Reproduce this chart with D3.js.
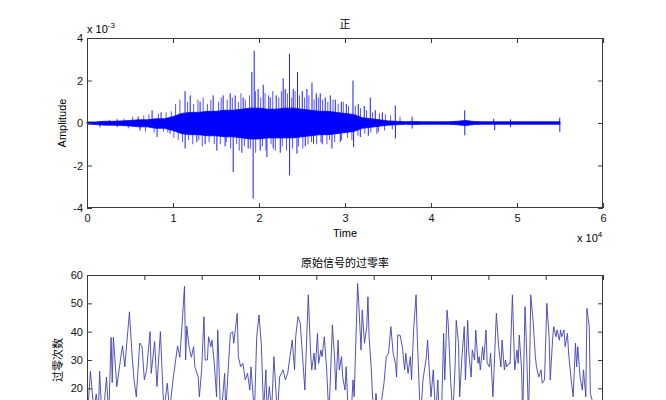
<!DOCTYPE html>
<html><head><meta charset="utf-8">
<script src="https://cdn.jsdelivr.net/npm/d3@7/dist/d3.min.js"></script>
<style>
html,body{margin:0;padding:0;background:#fff;}
text{font-family:"Liberation Sans",Arial,sans-serif;}
.cjk{font-family:"Noto Sans CJK SC","Liberation Sans",sans-serif;}
</style></head>
<body><svg id="c" width="666" height="400"></svg>
<script>
// ---------- DATA ----------
// Top plot: audio waveform, amplitude in units of 1e-3, time in samples
const waveT = [0,1000,2000,3000,4000,5000,6000,7000,8000,9000,10000,11000,12000,13000,14000,15000,16000,17000,18000,19000,20000,21000,22000,23000,24000,25000,26000,27000,28000,29000,30000,31000,32000,33000,34000,35000,36000,37000,38000,39000,40000,41000,42000,43000,44000,45000,46000,47000,48000,49000,50000,51000,52000,53000,54000,55000];
const waveUpper = [0.05,0.05,0.08,0.08,0.1,0.12,0.15,0.15,0.2,0.2,0.3,0.45,0.5,0.5,0.55,0.55,0.6,0.6,0.65,0.7,0.7,0.65,0.65,0.7,0.7,0.65,0.6,0.55,0.55,0.5,0.45,0.4,0.25,0.2,0.15,0.1,0.08,0.06,0.07,0.06,0.06,0.06,0.06,0.08,0.12,0.07,0.06,0.06,0.06,0.06,0.06,0.06,0.06,0.06,0.06,0.06];
const waveLower = [-0.05,-0.07,-0.1,-0.1,-0.12,-0.14,-0.18,-0.18,-0.25,-0.25,-0.35,-0.5,-0.55,-0.55,-0.6,-0.6,-0.65,-0.65,-0.7,-0.75,-0.75,-0.7,-0.7,-0.7,-0.7,-0.65,-0.6,-0.55,-0.55,-0.5,-0.45,-0.4,-0.25,-0.2,-0.15,-0.1,-0.08,-0.06,-0.07,-0.06,-0.06,-0.06,-0.06,-0.08,-0.12,-0.07,-0.06,-0.06,-0.06,-0.06,-0.06,-0.06,-0.06,-0.06,-0.06,-0.06];
// main peaks of the waveform (sample index, amplitude 1e-3)
const spikeT = [1500,5950,6170,7570,8150,8610,9660,11400,11410,12000,12770,13150,13740,14670,15100,15830,16060,16650,17000,17230,18010,18160,18740,19170,19320,19440,19900,20140,20490,20920,21300,21650,22000,22470,22810,23050,23550,23560,23980,24410,24480,25030,25380,25570,26160,26340,26660,27120,27350,27700,28290,28480,28870,29450,29570,30150,30930,31000,31540,31780,32240,32710,32940,33520,33720,34340,35850,35860,37800,37810,43920,43930,47290,47410,49240,49250,54970,54980];
const spikeV = [-0.2,0.3,-0.35,0.6,-0.66,0.5,-0.5,1.5,-1.2,1.3,-0.9,1.0,-1.0,1.3,-1.3,1.3,-1.1,1.4,-2.3,1.3,-1.4,1.2,-1.2,2.4,-3.55,3.4,1.6,-1.3,1.8,-1.6,1.2,-1.2,1.3,-1.4,2.1,1.6,3.26,-2.46,1.6,-1.44,2.4,1.5,-1.1,1.6,1.9,-0.97,1.4,1.4,-1.0,1.2,1.3,-1.2,1.1,-0.9,1.0,0.9,2.0,-1.13,0.9,-0.66,0.8,-0.6,1.2,0.6,-0.5,0.5,0.83,-0.73,0.3,-0.26,0.6,-0.58,0.2,-0.34,0.17,-0.2,0.25,-0.42];
// minor peaks (sample index, amplitude 1e-3)
const minorT = [2600,3500,3520,4300,4800,5300,6600,6800,7200,7800,8300,8900,9200,9400,9800,10100,10300,10600,10800,11100,11700,11800,12300,12400,12900,13000,13400,13500,14000,14200,14400,14800,15300,15500,15600,16200,16300,16700,16900,17400,17600,17700,17900,18300,18400,18900,19000,19600,19610,20200,20400,20700,20800,21100,21400,21600,21900,22300,22600,22700,23200,23300,23800,23900,24200,24600,24700,25100,25300,25700,25800,26100,26400,26700,26900,27200,27400,27900,28000,28200,28600,28800,29200,29600,29800,30300,30400,30800,31200,31500,31800,32300,32500,33000,33200,33900,34000,34600,34700,35300,35500,36400];
const minorV = [0.15,0.2,-0.2,0.2,-0.25,0.3,0.35,-0.4,0.4,-0.45,0.45,-0.4,0.5,-0.45,0.55,-0.7,0.9,-0.8,1.1,-0.9,1.0,-0.8,-1.0,0.9,1.1,-0.8,-1.1,1.2,0.9,-0.9,1.1,-1.0,1.0,-1.0,1.2,-0.9,1.1,-1.2,1.2,-1.0,1.0,-1.3,1.4,-1.1,1.1,1.3,-1.2,1.5,-1.4,1.2,-1.1,1.4,-1.3,1.3,-1.0,1.5,-1.3,1.2,1.5,-1.1,-1.3,1.4,1.2,-1.2,1.5,-1.1,1.3,-1.2,1.2,-1.0,1.3,-0.9,1.1,-1.0,1.2,-0.9,1.1,-1.0,1.0,-0.8,1.1,-0.9,0.9,-0.8,1.0,-0.7,0.8,-0.8,0.8,-0.6,0.7,-0.5,0.6,-0.45,0.5,-0.4,0.45,-0.35,0.4,0.35,-0.3,0.3];
const topYTicks = [-4,-2,0,2,4];
const topXTicks = [0,10000,20000,30000,40000,50000,60000];

// Bottom plot: zero-crossing rate per frame
const zcrFrame = [1,3,6,8,10,11,13,15,17,19,21,22,23,26,30,31,33,37,39,41,43,46,48,50,52,55,56,59,61,64,67,70,72,75,79,81,83,85,86,87,89,91,93,94,97,98,100,102,103,105,106,108,109,111,113,114,116,117,120,121,125,127,128,131,132,134,136,138,140,142,143,146,148,150,152,154,156,157,159,161,163,164,166,168,171,173,175,177,179,181,182,184,186,188,190,191,193,195,196,198,199,201,202,204,205,207,209,211,212,214,216,217,219,220,222,223,225,226,228,230,232,233,236,237,239,240,242,244,245,246,248,249,251,252,254,257,259,261,263,265,267,269,270,271,273,275,277,278,280,282,283,285,287,288,290,291,293,296,297,298,300,302,304,306,307,309,311,312,314,315,317,319,321,322,324,325,327,329,330,332,333,335,336,338,339,341,342,343,345,346,348,349,351,352,354,355,357,359,361,362,364,365,366,368,369,371,373,375,376,377,379,380,382,383,385,386,387,389,391,392,394,396,397,399,401,403,404,406,407,409,410,412,413,414,416,417,419,420,422,424,426,427,428,430,432,433,435,436,438,439,441];
const zcrValue = [14,26,12,18,12,26,10,14,24,10,38,22,38,20.6,32.5,35,27.6,47,33.5,23,17,36,34.7,23,26.5,40,25.3,36.5,20.6,40,12,21.8,12,23,35,31,43,56,30,42,34.7,31,34.7,27.6,24,17,26.5,45.3,30,30,38.2,34.7,37,28.8,17,40.6,17,10,25.3,12,39.4,40,35.9,46.5,31.2,27.6,28.8,23,25.3,19.4,27.6,11,38.2,45.9,35.9,12,26.5,12,20.6,12,31.2,24,11,24,26.5,23,25.3,31.2,37,26.5,38.2,45.3,43,31.2,19.4,31.2,53,32.4,26.5,32.4,26.5,39.4,28.8,33.5,31.2,38.2,26.5,10,20.6,42.4,30,19.4,37,26.5,31.2,24,19.4,27.6,10,8,23,17,57,50,33.5,47.6,35.9,41.8,52.3,38.2,26.5,17,12,18.2,10,16,21.8,31.2,32.4,41.8,32.4,28.8,24,38.8,38.8,34.7,26.5,32.4,25.3,31.2,23,41.8,53,38.2,17,10,23,31.2,37,30,17,26.5,10,23,10,8,39.4,23,47.6,43,24,10,27.6,44,35.9,17,31.2,41.8,23,44,32.4,24,33.5,30,40.6,28.8,31.2,26.5,34.7,30,40.6,28.8,27.6,32.4,17,26.5,46.5,34.7,27.6,37,26.5,30,27.6,28.8,28.8,53,26.5,33.5,28.8,38.8,26.5,10,48.8,38.2,10,26.5,53,44,31.2,27.6,24,26.5,21.8,23,50,38.2,23,37,41.8,38.2,40.6,37,40.6,38.2,40.6,34.7,39.4,32.4,24,17,35.9,27.6,34.7,24,19.4,26.5,17,48.2,41.8,18.2,15];
const botYTicks = [0,10,20,30,40,50,60];
const botYLabelled = [20,30,40,50,60]; // the labels that lie inside the picture
const botXTicks = [0,50,100,150,200,250,300,350,400,450];

// ---------- DRAW ----------
const svg = d3.select('#c');
const L = 87, R = 603;
const axisColor = '#3a3a3a';

function frame(g, x, y, xt, yt, xfmt, yfmt) {
  const W = x.range()[1]-x.range()[0];
  g.append('g').attr('transform',`translate(0,${y.range()[0]})`)
    .call(d3.axisBottom(x).tickValues(xt).tickSizeInner(-5).tickSizeOuter(0).tickPadding(6).tickFormat(xfmt));
  g.append('g').attr('transform',`translate(0,${y.range()[1]})`)
    .call(d3.axisTop(x).tickValues(xt).tickSizeInner(-5).tickSizeOuter(0).tickFormat(''));
  g.append('g').attr('transform',`translate(${x.range()[0]},0)`)
    .call(d3.axisLeft(y).tickValues(yt).tickSizeInner(-5).tickSizeOuter(0).tickPadding(4).tickFormat(yfmt));
  g.append('g').attr('transform',`translate(${x.range()[1]},0)`)
    .call(d3.axisRight(y).tickValues(yt).tickSizeInner(-5).tickSizeOuter(0).tickFormat(''));
  g.selectAll('.domain').remove();
  g.selectAll('.tick line').attr('stroke',axisColor);
  g.selectAll('.tick text').attr('font-size',11).attr('fill','#111').attr('font-family','"Liberation Sans",Arial,sans-serif');
  g.selectAll('.tick text').filter(function(){return this.textContent==='';}).remove();
  g.append('rect').attr('x',x.range()[0]+0.5).attr('y',y.range()[1]+0.5)
    .attr('width',W-1).attr('height',y.range()[0]-y.range()[1]-1)
    .attr('fill','none').attr('stroke',axisColor).attr('stroke-width',1);
}

// Top
const x1 = d3.scaleLinear().domain([0,60000]).range([L,R]);
const y1 = d3.scaleLinear().domain([-4,4]).range([208,38]);
const g1 = svg.append('g');
const core = waveT.map((t,i)=>({t, u:waveUpper[i], l:waveLower[i]}));
g1.append('path').datum(core)
  .attr('d', d3.area().x(d=>x1(d.t)).y0(d=>y1(d.l)).y1(d=>y1(d.u)))
  .attr('fill','#0000ff').attr('stroke','#0000ff').attr('stroke-width',0.8);
g1.append('path')
  .attr('d', minorT.map((t,i)=>`M${x1(t)},${y1(0)}L${x1(t)},${y1(minorV[i])}`).join(''))
  .attr('stroke','#0000ff').attr('stroke-width',0.8).attr('stroke-opacity',0.85).attr('fill','none');
g1.append('path')
  .attr('d', spikeT.map((t,i)=>`M${x1(t)},${y1(0)}L${x1(t)},${y1(spikeV[i])}`).join(''))
  .attr('stroke','#0000ff').attr('stroke-width',0.9).attr('fill','none');
frame(g1, x1, y1, topXTicks, topYTicks, d=>d/10000, d=>d);

svg.append('text').attr('class','cjk').attr('x',(L+R)/2).attr('y',28).attr('text-anchor','middle')
  .attr('font-size',11).text('正');
const ex1 = svg.append('text').attr('x',L).attr('y',33).attr('font-size',11);
ex1.append('tspan').text('x 10');
ex1.append('tspan').attr('dy',-5).attr('font-size',8).text('-3');
svg.append('text').attr('x',(L+R)/2).attr('y',237).attr('text-anchor','middle').attr('font-size',11).text('Time');
const ex2 = svg.append('text').attr('x',577).attr('y',242).attr('font-size',11);
ex2.append('tspan').text('x 10');
ex2.append('tspan').attr('dy',-5).attr('font-size',8).text('4');
svg.append('text').attr('transform',`translate(66,123) rotate(-90)`).attr('text-anchor','middle')
  .attr('font-size',11).text('Amplitude');

// Bottom
const x2 = d3.scaleLinear().domain([0,450]).range([L,R]);
const y2 = d3.scaleLinear().domain([0,60]).range([445,275]);
const g2 = svg.append('g');
svg.append('clipPath').attr('id','cp2').append('rect')
  .attr('x',L).attr('y',275).attr('width',R-L).attr('height',170);
g2.append('path').datum(zcrFrame.map((f,i)=>[f,zcrValue[i]]))
  .attr('clip-path','url(#cp2)')
  .attr('d', d3.line().x(d=>x2(d[0])).y(d=>y2(d[1])))
  .attr('fill','none').attr('stroke','#4040b4').attr('stroke-width',0.9);
frame(g2, x2, y2, botXTicks, botYTicks, ()=> '', d=> botYLabelled.includes(d) ? d : '');

svg.append('text').attr('class','cjk').attr('x',(L+R)/2).attr('y',267).attr('text-anchor','middle')
  .attr('font-size',11).text('原始信号的过零率');
svg.append('text').attr('class','cjk').attr('transform',`translate(62,360) rotate(-90)`).attr('text-anchor','middle')
  .attr('font-size',11).text('过零次数');
</script></body></html>
